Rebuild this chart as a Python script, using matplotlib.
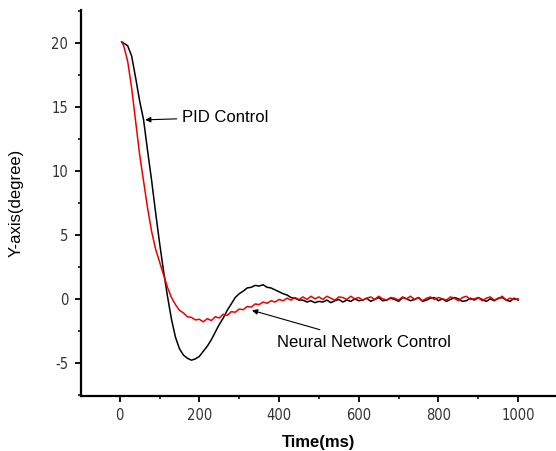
import matplotlib
matplotlib.use("Agg")
import matplotlib.pyplot as plt
from matplotlib.ticker import MultipleLocator
from matplotlib import font_manager

plt.rcParams["axes.unicode_minus"] = False

# time axis (ms), sample points
time_ms = [5] + list(range(10, 1001, 10))

# PID Control (black)
pid = [20.1, 20.0, 19.8, 19.0, 17.3, 15.5, 14.0, 11.6, 9.3, 6.8,
       4.4, 2.2, 0.2, -1.6, -3.0, -3.9, -4.4, -4.65, -4.8, -4.7,
       -4.5, -4.1, -3.7, -3.2, -2.6, -2.0, -1.5, -0.9, -0.4, 0.1,
       0.4, 0.6, 0.85, 0.9, 1.05, 1.0, 1.1, 0.9, 0.85, 0.7,
       0.55, 0.4, 0.3, 0.1, 0.05, -0.1, -0.1, -0.25, -0.15, -0.3,
       -0.2, -0.25, -0.1, -0.3, -0.15, -0.05, -0.25, -0.1, -0.2, 0.0,
       -0.15, -0.1, 0.05, -0.2, -0.05, 0.1, -0.15, -0.1, 0.05, -0.05,
       -0.2, 0.1, 0.0, -0.15, -0.05, 0.1, -0.2, -0.1, 0.05, 0.1,
       -0.15, 0.0, -0.2, -0.05, 0.1, 0.0, -0.2, -0.15, 0.05, -0.1,
       0.1, -0.05, -0.2, 0.0, -0.15, 0.05, 0.1, -0.1, -0.2, 0.05, -0.1]

# Neural Network Control (red)
nn_ctrl = [20.1, 19.8, 18.6, 16.5, 13.9, 11.3, 9.2, 7.1, 5.3, 3.9,
           2.9, 1.9, 0.9, 0.1, -0.45, -0.9, -1.1, -1.4, -1.45, -1.65,
           -1.6, -1.8, -1.55, -1.7, -1.4, -1.5, -1.2, -1.3, -1.0, -1.05,
           -0.8, -0.85, -0.6, -0.65, -0.4, -0.45, -0.25, -0.35, -0.15, -0.25,
           -0.05, -0.15, 0.05, -0.1, 0.1, -0.05, 0.15, -0.05, 0.2, 0.0,
           0.15, -0.05, 0.2, 0.05, -0.1, 0.15, 0.1, -0.05, 0.2, 0.0,
           0.1, -0.1, 0.05, 0.15, -0.05, 0.2, 0.0, -0.1, 0.1, 0.05,
           -0.1, 0.15, 0.0, 0.2, -0.05, 0.1, -0.15, 0.05, 0.15, -0.05,
           0.1, 0.0, -0.1, 0.15, 0.05, -0.15, 0.1, 0.2, -0.05, 0.0,
           0.1, -0.15, 0.05, 0.15, -0.1, 0.0, 0.2, -0.1, 0.05, -0.05, 0.0]

x_ticks = [0, 200, 400, 600, 800, 1000]
y_ticks = [-5, 0, 5, 10, 15, 20]

label_font = ["Liberation Sans", "DejaVu Sans"]
names = {f.name for f in font_manager.fontManager.ttflist}
if "Liberation Sans Narrow" in names:
    tick_font = ["Liberation Sans Narrow", "DejaVu Sans"]
    tick_stretch = "normal"
else:
    tick_font = ["DejaVu Sans"]
    tick_stretch = "condensed"

fig = plt.figure(figsize=(5.56, 4.51), dpi=100)
ax = fig.add_axes([0.145, 0.122, 0.855, 0.856])

ax.plot(time_ms, pid, color="black", lw=1.1)
ax.plot(time_ms, nn_ctrl, color="#ee0000", lw=1.1)

ax.set_xlim(-98, 1095)
ax.set_ylim(-7.6, 22.6)
ax.set_xticks(x_ticks)
ax.set_yticks(y_ticks)
ax.xaxis.set_minor_locator(MultipleLocator(100))
ax.yaxis.set_minor_locator(MultipleLocator(2.5))

for s in ["top", "right"]:
    ax.spines[s].set_visible(False)
for s in ["left", "bottom"]:
    ax.spines[s].set_linewidth(1.6)

ax.tick_params(which="major", direction="out", length=4, width=1.3, pad=5)
ax.tick_params(which="minor", direction="out", length=2.5, width=1.1)
for lbl in ax.get_xticklabels() + ax.get_yticklabels():
    lbl.set_fontfamily(tick_font)
    lbl.set_fontstretch(tick_stretch)
    lbl.set_fontsize(10.5)
    lbl.set_color("#333333")

ax.set_xlabel("Time(ms)", fontsize=12, family=label_font, fontweight="bold", labelpad=8)
ax.set_ylabel("Y-axis(degree)", fontsize=12, family=label_font, labelpad=20)

ax.annotate("PID Control", xy=(64, 14.0), xytext=(157, 14.2),
            fontsize=12, family=label_font, va="center",
            arrowprops=dict(arrowstyle="-|>", color="black", lw=0.8,
                            mutation_scale=8, shrinkA=2, shrinkB=0))
ax.annotate("Neural Network Control", xy=(332, -0.9), xytext=(395, -3.4),
            fontsize=12, family=label_font, va="center",
            arrowprops=dict(arrowstyle="-|>", color="black", lw=0.8,
                            mutation_scale=8, shrinkA=6, shrinkB=0))

fig.savefig("out.png", dpi=100)
